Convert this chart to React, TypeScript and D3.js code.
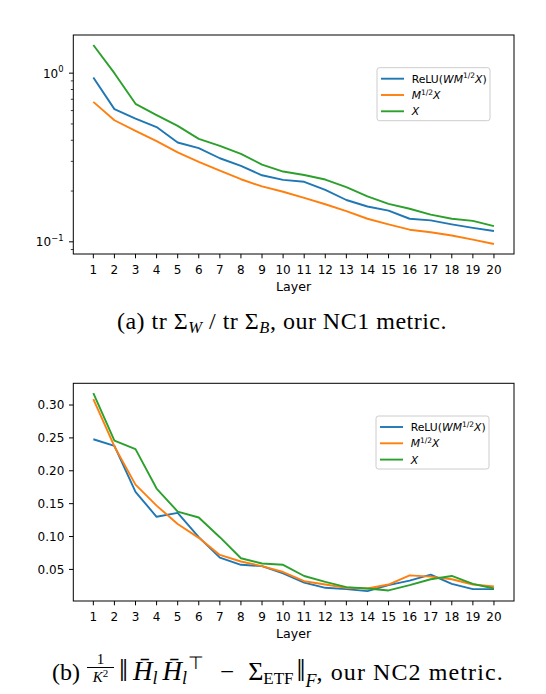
import * as d3 from "d3";

// layer index on the x axis
const layers = [1, 2, 3, 4, 5, 6, 7, 8, 9, 10, 11, 12, 13, 14, 15, 16, 17, 18, 19, 20];

// (a) tr Sw / tr Sb, NC1
const nc1Relu = [0.942, 0.612, 0.538, 0.479, 0.388, 0.359, 0.313, 0.282, 0.248, 0.233, 0.227, 0.203, 0.177, 0.162, 0.153, 0.137, 0.134, 0.127, 0.121, 0.116];
const nc1Msqrt = [0.676, 0.526, 0.455, 0.395, 0.339, 0.298, 0.264, 0.235, 0.213, 0.198, 0.182, 0.167, 0.152, 0.137, 0.127, 0.118, 0.114, 0.109, 0.103, 0.097];
const nc1X = [1.47, 1.0, 0.658, 0.564, 0.487, 0.408, 0.371, 0.332, 0.287, 0.261, 0.249, 0.234, 0.211, 0.186, 0.168, 0.157, 0.145, 0.137, 0.133, 0.124];

// (b) NC2
const nc2Relu = [0.248, 0.238, 0.168, 0.130, 0.136, 0.099, 0.068, 0.057, 0.055, 0.044, 0.030, 0.022, 0.020, 0.017, 0.026, 0.033, 0.042, 0.028, 0.020, 0.020];
const nc2Msqrt = [0.309, 0.237, 0.179, 0.147, 0.119, 0.098, 0.072, 0.062, 0.055, 0.046, 0.032, 0.027, 0.022, 0.021, 0.027, 0.041, 0.039, 0.035, 0.027, 0.024];
const nc2X = [0.318, 0.246, 0.233, 0.173, 0.138, 0.129, 0.099, 0.067, 0.059, 0.057, 0.040, 0.031, 0.023, 0.021, 0.018, 0.026, 0.035, 0.040, 0.028, 0.021];

const nc1MajorTicks = [0.1, 1];
const nc1MinorTicks = [0.09, 0.2, 0.3, 0.4, 0.5, 0.6, 0.7, 0.8, 0.9];
const nc1TickExp = ["\u22121", "0"];
const nc2Ticks = [0.05, 0.1, 0.15, 0.2, 0.25, 0.3];

const COLORS = ["#1f77b4", "#ff7f0e", "#2ca02c"];
const SANS = "DejaVu Sans";
const SERIF = "Liberation Serif";
const TICK_FS = 12;

const xScale = d3.scaleLinear().domain([0.05, 20.95]).range([73.3, 514]);

function LegendLabel({ idx, x, y }: { idx: number; x: number; y: number }) {
	const fs = 10.8;
	const sup = 7.5;
	if (idx === 0) {
		return (
			<text x={x} y={y} fontSize={fs} fontFamily={SANS}>
				<tspan>ReLU(</tspan>
				<tspan fontStyle="italic">WM</tspan>
				<tspan fontSize={sup} dy={-4.2}>1/2</tspan>
				<tspan fontStyle="italic" dy={4.2}>X</tspan>
				<tspan>)</tspan>
			</text>
		);
	}
	if (idx === 1) {
		return (
			<text x={x} y={y} fontSize={fs} fontFamily={SANS}>
				<tspan fontStyle="italic">M</tspan>
				<tspan fontSize={sup} dy={-4.2}>1/2</tspan>
				<tspan fontStyle="italic" dy={4.2}>X</tspan>
			</text>
		);
	}
	return (
		<text x={x} y={y} fontSize={fs} fontFamily={SANS} fontStyle="italic">
			X
		</text>
	);
}

function Legend({ x, y }: { x: number; y: number }) {
	return (
		<g>
			<rect x={x} y={y} width={113} height={53} rx={2.5} fill="white" fillOpacity={0.8} stroke="#cccccc" strokeWidth={1} />
			{COLORS.map((c, i) => {
				const ry = y + 11 + i * 16.3;
				return (
					<g key={c}>
						<line x1={x + 4} x2={x + 27} y1={ry} y2={ry} stroke={c} strokeWidth={1.9} />
						<LegendLabel idx={i} x={x + 34.7} y={ry + 3.9} />
					</g>
				);
			})}
		</g>
	);
}

function XAxis({ y }: { y: number }) {
	return (
		<g>
			{layers.map((l) => (
				<g key={l}>
					<line x1={xScale(l)} x2={xScale(l)} y1={y} y2={y + 4.3} stroke="black" strokeWidth={1} />
					<text x={xScale(l)} y={y + 20.3} textAnchor="middle" fontSize={TICK_FS} fontFamily={SANS}>
						{l}
					</text>
				</g>
			))}
			<text x={(73.3 + 514) / 2} y={y + 36.8} textAnchor="middle" fontSize={12.6} fontFamily={SANS}>
				Layer
			</text>
		</g>
	);
}

function Series({ values, y, color }: { values: number[]; y: (v: number) => number; color: string }) {
	const line = d3
		.line<number>()
		.x((_, i) => xScale(layers[i]))
		.y((v) => y(v));
	return <path d={line(values) ?? ""} fill="none" stroke={color} strokeWidth={1.9} strokeLinejoin="round" />;
}

function paddedLog(vals: number[]): [number, number] {
	const lo = Math.log10(d3.min(vals) ?? 1);
	const hi = Math.log10(d3.max(vals) ?? 1);
	const m = (hi - lo) * 0.05;
	return [Math.pow(10, lo - m), Math.pow(10, hi + m)];
}

function paddedLin(vals: number[]): [number, number] {
	const lo = d3.min(vals) ?? 0;
	const hi = d3.max(vals) ?? 1;
	const m = (hi - lo) * 0.05;
	return [lo - m, hi + m];
}

function TopChart() {
	const top = 35;
	const bottom = 254;
	const all = [...nc1Relu, ...nc1Msqrt, ...nc1X];
	const y = d3.scaleLog().domain(paddedLog(all)).range([bottom, top]);
	return (
		<g>
			{[nc1Relu, nc1Msqrt, nc1X].map((s, i) => (
				<Series key={i} values={s} y={y} color={COLORS[i]} />
			))}
			{nc1MinorTicks.map((t) => (
				<line key={t} x1={73.3 - 2.5} x2={73.3} y1={y(t)} y2={y(t)} stroke="black" strokeWidth={0.75} />
			))}
			{nc1MajorTicks.map((t, i) => (
				<g key={t}>
					<line x1={73.3 - 4.3} x2={73.3} y1={y(t)} y2={y(t)} stroke="black" strokeWidth={1} />
					<text x={63.5} y={y(t) + 4.4} textAnchor="end" fontSize={TICK_FS} fontFamily={SANS}>
						<tspan>10</tspan>
						<tspan fontSize={8.4} dy={-5.2}>{nc1TickExp[i]}</tspan>
					</text>
				</g>
			))}
			<rect x={73.3} y={top} width={514 - 73.3} height={bottom - top} fill="none" stroke="black" strokeWidth={1} />
			<XAxis y={bottom} />
			<Legend x={377} y={67.7} />
		</g>
	);
}

function BottomChart() {
	const top = 383.3;
	const bottom = 601;
	const all = [...nc2Relu, ...nc2Msqrt, ...nc2X];
	const y = d3.scaleLinear().domain(paddedLin(all)).range([bottom, top]);
	return (
		<g>
			{[nc2Relu, nc2Msqrt, nc2X].map((s, i) => (
				<Series key={i} values={s} y={y} color={COLORS[i]} />
			))}
			{nc2Ticks.map((t) => (
				<g key={t}>
					<line x1={73.3 - 4.3} x2={73.3} y1={y(t)} y2={y(t)} stroke="black" strokeWidth={1} />
					<text x={64.3} y={y(t) + 4.4} textAnchor="end" fontSize={TICK_FS} fontFamily={SANS}>
						{d3.format(".2f")(t)}
					</text>
				</g>
			))}
			<rect x={73.3} y={top} width={514 - 73.3} height={bottom - top} fill="none" stroke="black" strokeWidth={1} />
			<XAxis y={bottom} />
			<Legend x={376} y={416} />
		</g>
	);
}

function Captions() {
	const fs = 24;
	const sub = 16.5;
	return (
		<g fontFamily={SERIF} fill="black">
			<text x={282} y={329} textAnchor="middle" fontSize={fs} letterSpacing={0.5}>
				<tspan>(a) tr Σ</tspan>
				<tspan fontSize={sub} fontStyle="italic" dy={4}>W</tspan>
				<tspan dy={-4}> / tr Σ</tspan>
				<tspan fontSize={sub} fontStyle="italic" dy={4}>B</tspan>
				<tspan dy={-4}>, our NC1 metric.</tspan>
			</text>
			<text x={52} y={680} fontSize={fs}>(b)</text>
			<text x={100.5} y={664} textAnchor="middle" fontSize={15}>1</text>
			<line x1={87} x2={114} y1={667.5} y2={667.5} stroke="black" strokeWidth={1} />
			<text x={100.5} y={682} textAnchor="middle" fontSize={15}>
				<tspan fontStyle="italic">K</tspan>
				<tspan fontSize={11} dy={-5}>2</tspan>
			</text>
			<text x={119} y={680} fontSize={fs}>
				<tspan fontSize={32} dy={1}>‖</tspan>
				<tspan fontSize={27} fontStyle="italic" dx={5} dy={-1}>H̄</tspan>
				<tspan fontSize={18} fontStyle="italic" dy={4}>l</tspan>
				<tspan fontSize={27} fontStyle="italic" dx={5} dy={-4}>H̄</tspan>
				<tspan fontSize={18} fontStyle="italic" dy={4}>l</tspan>
				<tspan fontSize={18} dx={1} dy={-15}>⊤</tspan>
				<tspan fontSize={25} dx={16} dy={11}>−</tspan>
				<tspan fontSize={26} dx={14}>Σ</tspan>
				<tspan fontSize={17} dy={4}>ETF</tspan>
				<tspan fontSize={32} dx={3} dy={-3}>‖</tspan>
				<tspan fontSize={18} fontStyle="italic" dy={6}>F</tspan>
				<tspan dy={-7} letterSpacing={1.1}>, our NC2 metric.</tspan>
			</text>
		</g>
	);
}

export default function App() {
	return (
		<svg
			width={546}
			height={694}
			style={{ position: "absolute", left: 0, top: 0, background: "white" }}
		>
			<rect width={546} height={694} fill="white" />
			<TopChart />
			<BottomChart />
			<Captions />
		</svg>
	);
}
